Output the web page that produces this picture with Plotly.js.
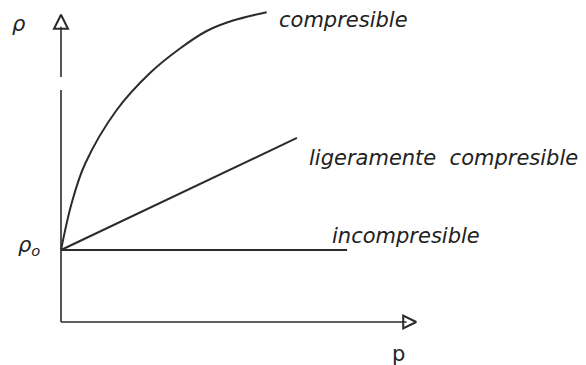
<!DOCTYPE html>
<html>
<head>
<meta charset="utf-8">
<script src="https://cdn.plot.ly/plotly-3.0.1.min.js"></script>
<style>html,body{margin:0;padding:0;background:#fff;}#chart{width:586px;height:365px;}</style>
</head>
<body>
<div id="chart"></div>
<script>
// Data (units: p along x, rho along y; origin at axis corner)
const rho0 = 3.0;
const compX = [0, 0.446, 1.0, 2.321, 3.708, 4.958, 6.07, 7.167, 8.57];
const compY = [3.0, 4.958, 6.583, 8.833, 10.375, 11.396, 12.125, 12.5625, 12.904];
const ligX = [0, 9.83];
const ligY = [3.0, 7.67];
const incX = [0, 11.92];
const incY = [rho0, rho0];
// axes extents
const xAxisEnd = 14.8;
const yAxisLower = [0, 9.67];
const yAxisUpper = [10.21, 12.3];
const yAxisTip = 12.8;
const labels = ["compresible", "ligeramente  compresible", "incompresible"];

const ink = '#2b2b2b';
const lw = 2;
const traces = [
  {x: compX, y: compY, mode: 'lines', line: {color: ink, width: lw, shape: 'spline', smoothing: 1}},
  {x: ligX, y: ligY, mode: 'lines', line: {color: ink, width: lw}},
  {x: incX, y: incY, mode: 'lines', line: {color: ink, width: lw}},
  // y axis (with the small break)
  {x: [0, 0], y: yAxisLower, mode: 'lines', line: {color: ink, width: 1.6}},
  {x: [0, 0], y: yAxisUpper, mode: 'lines', line: {color: ink, width: 1.6}},
  {x: [0], y: [yAxisTip], mode: 'markers', marker: {symbol: 'arrow-up-open', size: 14, color: ink, line: {color: ink, width: 2}}},
  // x axis
  {x: [0, xAxisEnd - 0.4], y: [0, 0], mode: 'lines', line: {color: ink, width: 1.6}},
  {x: [xAxisEnd], y: [0], mode: 'markers', marker: {symbol: 'arrow-right-open', size: 13, color: ink, line: {color: ink, width: 2}}}
];

const tf = {family: 'DejaVu Sans, sans-serif', size: 21, color: '#222'};
const itf = Object.assign({}, tf, {style: 'italic'});

const layout = {
  width: 586, height: 365,
  margin: {l: 0, r: 0, t: 0, b: 0},
  paper_bgcolor: '#fff', plot_bgcolor: '#fff',
  showlegend: false,
  xaxis: {range: [-61/24, 525/24], visible: false, fixedrange: true},
  yaxis: {range: [-43/24, 322/24], visible: false, fixedrange: true},
  annotations: [
    {x: 8.98, y: 12.58, text: labels[0], showarrow: false, xanchor: 'left', yanchor: 'middle', font: itf},
    {x: 10.25, y: 6.83, text: labels[1], showarrow: false, xanchor: 'left', yanchor: 'middle', font: itf},
    {x: 11.2, y: 3.58, text: labels[2], showarrow: false, xanchor: 'left', yanchor: 'middle', font: itf},
    {x: -1.75, y: 12.4, text: 'ρ', showarrow: false, xanchor: 'center', yanchor: 'middle', font: itf},
    {x: -1.35, y: 3.15, text: 'ρ<sub>o</sub>', showarrow: false, xanchor: 'center', yanchor: 'middle', font: itf},
    {x: 14.05, y: -1.35, text: 'p', showarrow: false, xanchor: 'center', yanchor: 'middle', font: tf}
  ]
};

Plotly.newPlot('chart', traces, layout, {staticPlot: true, displayModeBar: false});
</script>
</body>
</html>
